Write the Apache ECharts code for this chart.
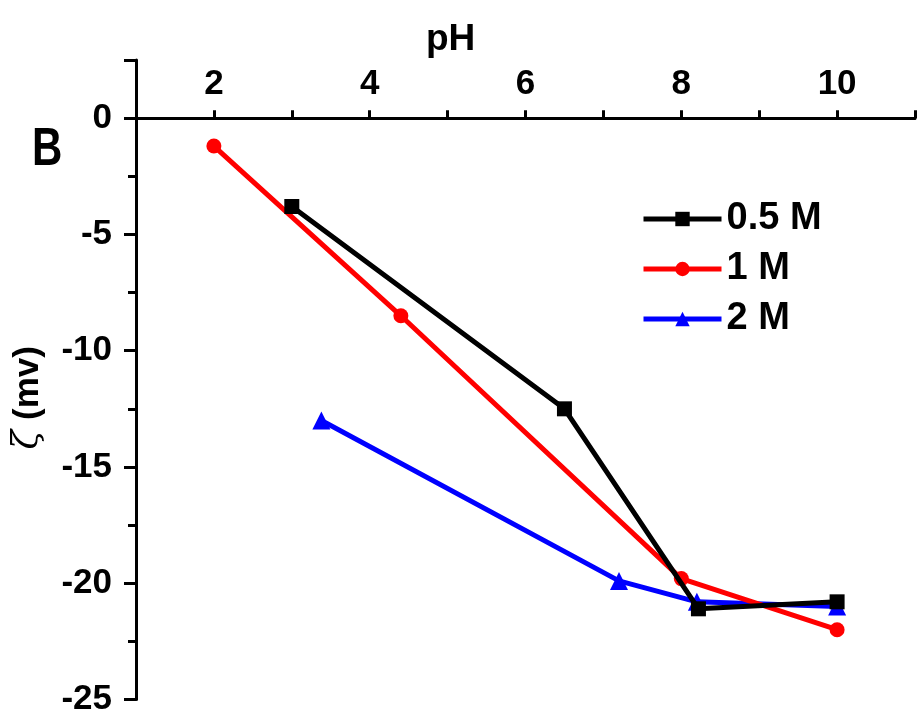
<!DOCTYPE html>
<html>
<head>
<meta charset="utf-8">
<script src="https://cdn.jsdelivr.net/npm/echarts@6/dist/echarts.min.js"></script>
<style>html,body{margin:0;padding:0;background:#fff;}#c{width:918px;height:717px;}</style>
</head>
<body>
<div id="c"></div>
<script>
const seriesNames = ['0.5 M', '1 M', '2 M'];
const ph05 = [3, 6.5, 8.22, 10];
const zeta05 = [-3.8, -12.5, -21.1, -20.8];
const ph1 = [2, 4.4, 8, 10];
const zeta1 = [-1.2, -8.5, -19.8, -22.0];
const ph2 = [3.38, 7.2, 8.2, 10];
const zeta2 = [-13.0, -19.9, -20.8, -21.0];
const colors = ['#000000', '#ff0000', '#0000ff'];
const symbols = ['rect', 'circle', 'triangle'];

const pairs = (xs, ys) => xs.map((x, i) => [x, ys[i]]);
const datas = [pairs(ph05, zeta05), pairs(ph1, zeta1), pairs(ph2, zeta2)];

const font = 'Liberation Sans, Arial, sans-serif';
const gridTop = 60, gridH = 640, yMin = -25, yMax = 2.5;
const zeroOffset = gridH * yMax / (yMax - yMin);

const chart = echarts.init(document.getElementById('c'));
chart.setOption({
  animation: false,
  backgroundColor: '#fff',
  grid: { left: 136, top: gridTop, width: 789, height: gridH, containLabel: false },
  title: {
    text: 'pH', left: 421, top: 16,
    textStyle: { fontFamily: font, fontWeight: 'bold', fontSize: 37, color: '#000' }
  },
  graphic: [{
    type: 'text', x: 32, y: 124, scaleY: 1.27,
    style: { text: 'B', fontFamily: font, fontWeight: 'bold', fontSize: 42, fill: '#000' }
  }],
  legend: {
    left: 636, top: 195, orient: 'vertical', itemWidth: 78, itemHeight: 18, itemGap: 12,
    textStyle: { fontFamily: font, fontWeight: 'bold', fontSize: 38, color: '#000' },
    lineStyle: { width: 5 },
    data: seriesNames
  },
  xAxis: {
    type: 'value', position: 'top', min: 1, max: 11, interval: 1,
    offset: -zeroOffset,
    axisLine: { onZero: false, lineStyle: { color: '#000', width: 3 } },
    axisTick: { show: true, inside: false, length: 8, lineStyle: { width: 3, color: '#000' } },
    splitLine: { show: false },
    axisLabel: {
      margin: 16, fontFamily: font, fontWeight: 'bold', fontSize: 35, color: '#000',
      formatter: v => (v % 2 === 0 ? String(v) : '')
    }
  },
  yAxis: {
    type: 'value', min: yMin, max: yMax, interval: 5,
    name: '{z|ζ}{s| }{m|(mv)}', nameLocation: 'middle', nameGap: 90, nameRotate: 90,
    nameTextStyle: {
      padding: [0, 36, 0, 0],
      rich: {
        z: { fontFamily: 'DejaVu Serif, serif', fontStyle: 'italic', fontSize: 36, color: '#000' },
        s: { fontFamily: font, fontSize: 35, width: 10 },
        m: { fontFamily: font, fontWeight: 'bold', fontSize: 35, color: '#000' }
      }
    },
    axisLine: { show: true, onZero: false, lineStyle: { color: '#000', width: 3 } },
    axisTick: { show: true, inside: false, length: 12, lineStyle: { width: 3, color: '#000' } },
    minorTick: { show: true, splitNumber: 2, length: 8, lineStyle: { width: 3, color: '#000' } },
    splitLine: { show: false },
    axisLabel: {
      margin: 24, fontFamily: font, fontWeight: 'bold', fontSize: 35, color: '#000',
      formatter: v => (Number.isInteger(v / 5) ? String(v) : '')
    }
  },
  series: datas.map((d, i) => ({
    name: seriesNames[i], type: 'line', data: d,
    symbol: symbols[i], symbolSize: i === 2 ? 18 : 15,
    lineStyle: { color: colors[i], width: 5 },
    itemStyle: { color: colors[i] },
    z: 3 - i
  }))
});
</script>
</body>
</html>
